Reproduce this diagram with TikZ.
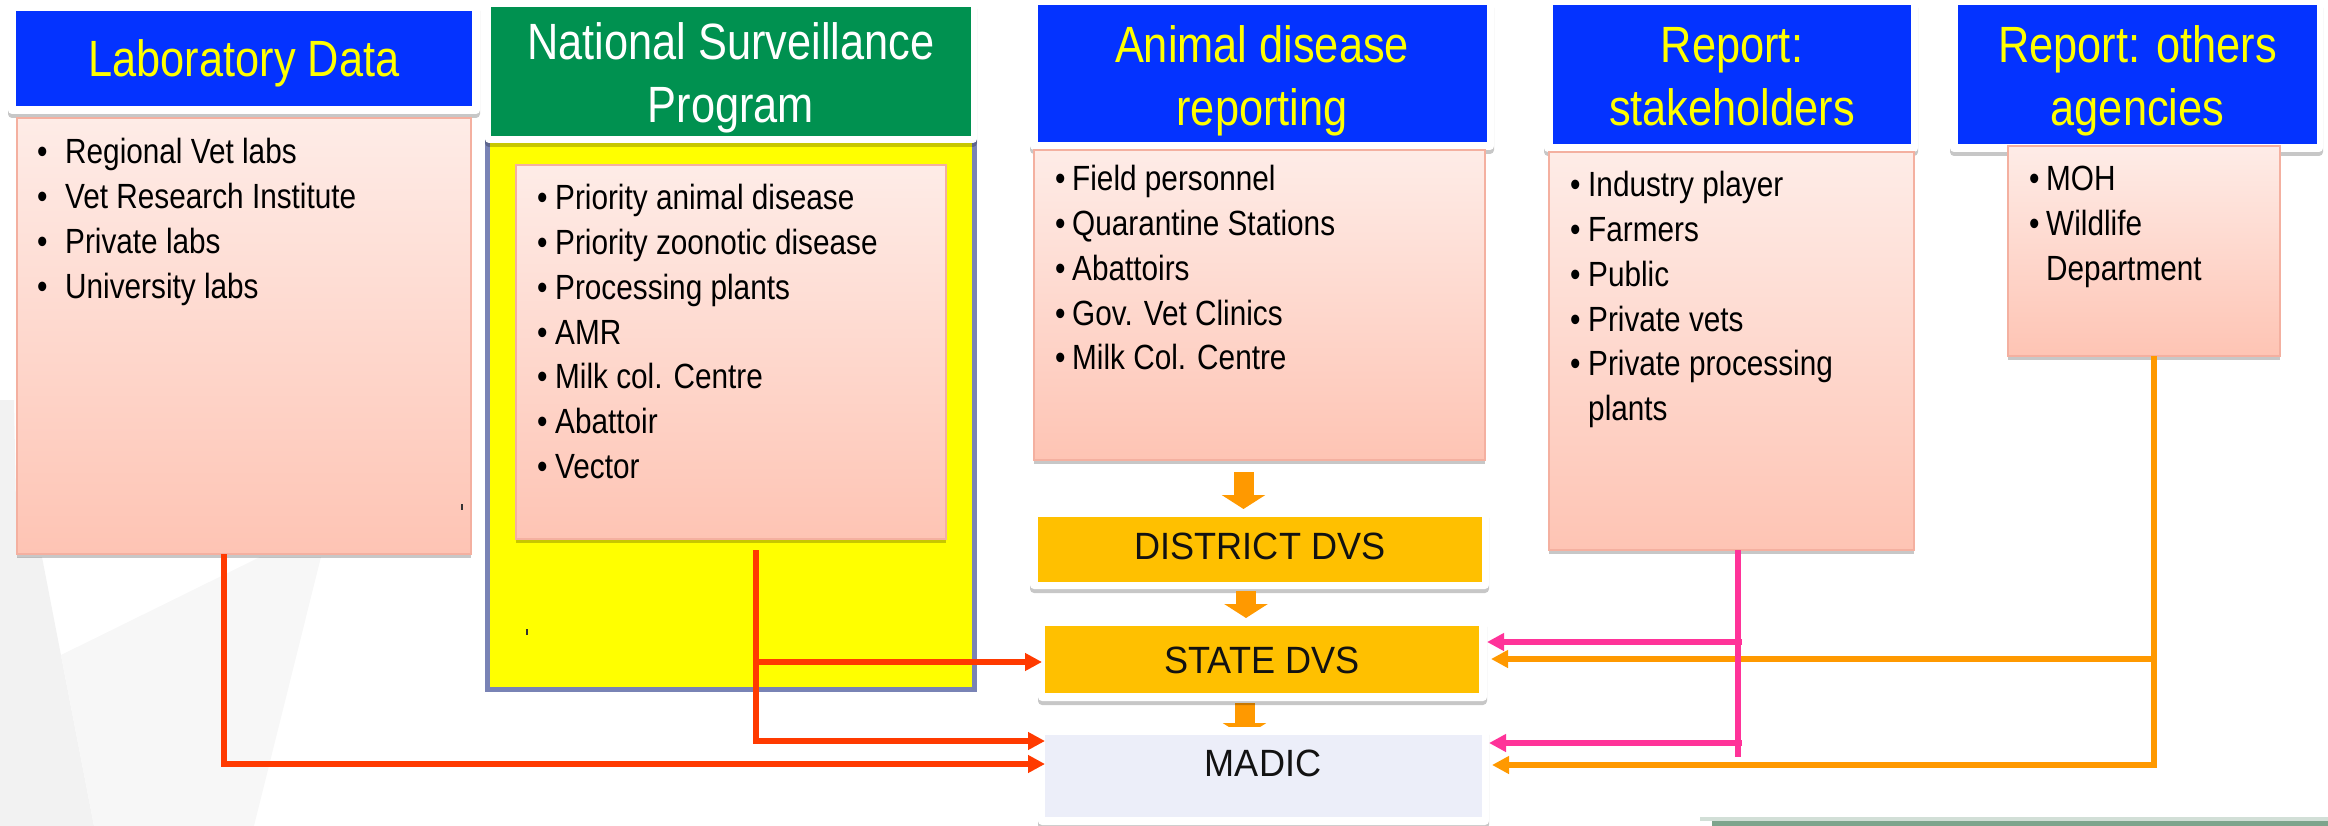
\documentclass[tikz,border=0pt]{standalone}
\usepackage{fontspec}
\setmainfont{Liberation Sans}
\newfontfamily\hdfont[FakeStretch=0.85]{Liberation Sans}
\newfontfamily\dvsfont[FakeStretch=0.95]{Liberation Sans}
\usetikzlibrary{arrows.meta,shadows}
\pgfdeclarelayer{background}
\pgfsetlayers{background,main}
\definecolor{hblue}{RGB}{4,51,255}
\definecolor{hgreen}{RGB}{0,145,80}
\definecolor{hyellow}{RGB}{255,255,0}
\definecolor{pinkT}{RGB}{254,236,231}
\definecolor{pinkB}{RGB}{254,196,180}
\definecolor{pinkD}{RGB}{244,176,160}
\definecolor{ybord}{RGB}{121,131,181}
\definecolor{dvsor}{RGB}{255,192,0}
\definecolor{madbg}{RGB}{236,238,249}
\definecolor{redL}{RGB}{255,58,0}
\definecolor{pinkL}{RGB}{255,51,153}
\definecolor{orL}{RGB}{255,153,0}
\definecolor{bggray}{RGB}{242,242,242}
\definecolor{bggray2}{RGB}{247,247,247}
\definecolor{stripG}{RGB}{125,164,140}
\newcommand\bl[2]{\makebox[#1][l]{•}#2}
\begin{document}
\begin{tikzpicture}[x=1pt,y=-1pt,
  box/.style={inner sep=0pt, outer sep=0pt, anchor=center},
  shad/.style={drop shadow={shadow xshift=0pt, shadow yshift=-4pt, opacity=0.22, fill=black}},
  framebox/.style={box, fill=white, rounded corners=4pt, shad},
  hbox/.style={box, fill=hblue},
  pinkbox/.style={box, top color=pinkT, bottom color=pinkB, draw=pinkD, line width=1.5pt, shad},
  hdtext/.style={inner sep=0pt, anchor=base, text=hyellow, font=\hdfont\fontsize{51}{63}\selectfont},
  listtext/.style={inner sep=0pt, anchor=base west, text=black, font=\hdfont\fontsize{35}{44.7}\selectfont},
  dvstext/.style={inner sep=0pt, anchor=base, text=black!93, font=\dvsfont\fontsize{38}{46}\selectfont},
  blockarrow/.style={draw=orL, line width=20pt, -{Triangle[length=14pt,width=43pt]}},
  redarrow/.style={draw=redL, line width=5.5pt, -{Triangle[length=17pt,width=17pt]}},
  pinkline/.style={draw=pinkL, line width=5.5pt},
  pinkarrow/.style={pinkline, -{Triangle[length=17pt,width=17pt]}},
  orline/.style={draw=orL, line width=5.5pt},
  orarrow/.style={orline, -{Triangle[length=17pt,width=17pt]}}
]
\useasboundingbox (0,0) rectangle (2328,826);
% faint slide background
\fill[bggray] (0,400) -- (14,400) -- (17,557) -- (0,557) -- cycle;
\fill[bggray] (0,557) -- (42,557) -- (94,826) -- (0,826) -- cycle;
\fill[bggray2] (61,655) -- (260,557) -- (321,557) -- (254,826) -- (94,826) -- cycle;
\fill[stripG!35] (1700,817) rectangle (2328,821);
\fill[stripG] (1712,821) rectangle (2328,826);

% National Surveillance Program yellow panel
\node[box, fill=hyellow, draw=ybord, line width=5pt, minimum width=487, minimum height=551.5] (nspY) at (731,413.75) {};

% headers
\node[framebox, minimum width=472, minimum height=111] (labF) at (244,58.5) {};
\node[hbox, minimum width=456, minimum height=95] (labH) at (244,58.5) {};
\node[hdtext] (labT) at (244,77) {\begin{tabular}[t]{@{}c@{}}Laboratory Data\end{tabular}};

\node[framebox, minimum width=492, minimum height=142] (nspF) at (731,72) {};
\node[box, fill=hgreen, minimum width=480, minimum height=129] (nspH) at (731,71.5) {};
\node[hdtext, text=white] (nspT) at (731,60) {\begin{tabular}[t]{@{}c@{}}National Surveillance\\Program\end{tabular}};

\node[framebox, minimum width=464, minimum height=150] (adrF) at (1262,75) {};
\node[hbox, minimum width=449, minimum height=137] (adrH) at (1262.5,73.5) {};
\node[hdtext] (adrT) at (1262,62.5) {\begin{tabular}[t]{@{}c@{}}Animal disease\\reporting\end{tabular}};

\node[framebox, minimum width=374, minimum height=152] (shkF) at (1731,76) {};
\node[hbox, minimum width=358, minimum height=139] (shkH) at (1732,74.5) {};
\node[hdtext] (shkT) at (1732,62.5) {\begin{tabular}[t]{@{}c@{}}Report:\\stakeholders\end{tabular}};

\node[framebox, minimum width=373, minimum height=152] (othF) at (2136.5,76) {};
\node[hbox, minimum width=359, minimum height=139] (othH) at (2137.5,74.5) {};
\node[hdtext] (othT) at (2137.5,62.5) {\begin{tabular}[t]{@{}c@{}}Report: others\\agencies\end{tabular}};

% pink content boxes
\node[pinkbox, minimum width=454, minimum height=436] (lab) at (244,336) {};
\node[listtext] (labL) at (37,164) {\begin{tabular}[t]{@{}l@{}}\bl{28pt}{Regional Vet labs}\\\bl{28pt}{Vet Research Institute}\\\bl{28pt}{Private labs}\\\bl{28pt}{University labs}\end{tabular}};

\node[pinkbox, minimum width=430, minimum height=374] (nsp) at (731,352) {};
\node[listtext] (nspL) at (537,210) {\begin{tabular}[t]{@{}l@{}}\bl{18pt}{Priority animal disease}\\\bl{18pt}{Priority zoonotic disease}\\\bl{18pt}{Processing plants}\\\bl{18pt}{AMR}\\\bl{18pt}{Milk col. Centre}\\\bl{18pt}{Abattoir}\\\bl{18pt}{Vector}\end{tabular}};

\node[pinkbox, minimum width=451, minimum height=310] (adr) at (1259.5,305) {};
\node[listtext] (adrL) at (1055,191) {\begin{tabular}[t]{@{}l@{}}\bl{17pt}{Field personnel}\\\bl{17pt}{Quarantine Stations}\\\bl{17pt}{Abattoirs}\\\bl{17pt}{Gov. Vet Clinics}\\\bl{17pt}{Milk Col. Centre}\end{tabular}};

\node[pinkbox, minimum width=365, minimum height=398] (shk) at (1731.5,351) {};
\node[listtext] (shkL) at (1570,197) {\begin{tabular}[t]{@{}l@{}}\bl{18pt}{Industry player}\\\bl{18pt}{Farmers}\\\bl{18pt}{Public}\\\bl{18pt}{Private vets}\\\bl{18pt}{Private processing}\\\hspace*{18pt}plants\end{tabular}};

\node[pinkbox, minimum width=272, minimum height=210] (oth) at (2144,251) {};
\node[listtext] (othL) at (2029,191) {\begin{tabular}[t]{@{}l@{}}\bl{17pt}{MOH}\\\bl{17pt}{Wildlife}\\\hspace*{17pt}Department\end{tabular}};

% DVS chain
\node[framebox, minimum width=459, minimum height=79] (distF) at (1259.5,549.5) {};
\node[box, fill=dvsor, minimum width=444, minimum height=65] (dist) at (1260,549.5) {};
\node[dvstext] (distT) at (1260,559) {DISTRICT DVS};

\node[framebox, minimum width=449, minimum height=82] (stateF) at (1262.5,660) {};
\node[box, fill=dvsor, minimum width=434, minimum height=67] (state) at (1262,659.5) {};
\node[dvstext] (stateT) at (1262,673) {STATE DVS};

\node[framebox, minimum width=451, minimum height=98] (madF) at (1263.5,776) {};
\node[box, fill=madbg, minimum width=437, minimum height=82] (madic) at (1263.5,776) {};
\node[dvstext] (madT) at (1263,776) {MADIC};

% block arrows
\draw[blockarrow] ([xshift=-16pt,yshift=-12pt]adr.south) -- ([xshift=-16pt,yshift=1pt]distF.north);
\draw[blockarrow] ([xshift=-13.5pt,yshift=-2pt]distF.south) -- ([xshift=-16.5pt,yshift=1pt]stateF.north);
\begin{pgfonlayer}{background}
\draw[blockarrow] ([xshift=-18pt,yshift=-2pt]stateF.south) -- ([xshift=-19pt,yshift=-10pt]madF.north);
\end{pgfonlayer}

% red connectors
\coordinate (labD) at ([xshift=-20pt]lab.south);
\draw[redarrow] (labD) |- ([yshift=12pt]madic.west);
\coordinate (nspD) at ([xshift=25pt,yshift=-11pt]nsp.south);
\draw[redarrow] (nspD) |- ([yshift=35pt]madic.west);
\coordinate (stL) at ([xshift=-3pt,yshift=-2.5pt]state.west);
\draw[redarrow] (nspD |- stL) -- (stL);

% orange connectors
\coordinate (othD) at ([xshift=10pt]oth.south);
\coordinate (stR) at ([xshift=4pt,yshift=1pt]stateF.east);
\coordinate (mdR) at ([xshift=3pt,yshift=11pt]madF.east);
\draw[orarrow] (othD) |- (mdR);
\draw[orarrow] (othD |- stR) -- (stR);

% pink connectors
\coordinate (shkD) at ([xshift=6.5pt]shk.south);
\coordinate (shkE) at (1738,757);
\coordinate (shkX) at ([xshift=4pt]shkD);
\coordinate (stP) at ([yshift=18pt]stateF.east);
\coordinate (mdP) at ([yshift=33pt]madF.east);
\draw[pinkline] (shkD) -- (shkE);
\draw[pinkarrow] (shkX |- stP) -- (stP);
\draw[pinkarrow] (shkX |- mdP) -- (mdP);

% stray marks
\draw[line width=1.5pt, black!80] (462,504) -- (462,510);
\draw[line width=1.5pt, black!80] (527,629) -- (527,635);
\end{tikzpicture}
\end{document}
